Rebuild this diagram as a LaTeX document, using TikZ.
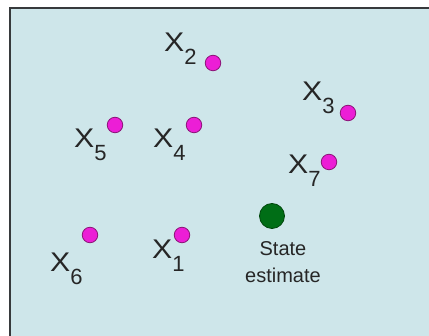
\documentclass[tikz,border=0pt]{standalone}
\usepackage{fontspec}
\setmainfont{Liberation Sans}
\usepackage{tikz}

\definecolor{panelbg}{RGB}{206,230,234}
\definecolor{framegray}{RGB}{55,58,60}
\definecolor{ptfill}{RGB}{236,30,214}
\definecolor{ptedge}{RGB}{140,20,120}
\definecolor{estfill}{RGB}{0,110,22}
\definecolor{estedge}{RGB}{0,70,12}

% label X with a lowered subscript digit
\newcommand{\xlab}[1]{\scalebox{1.12}[1]{X}\raisebox{-13pt}{\fontsize{22}{22}\selectfont #1}}

\begin{document}
\begin{tikzpicture}[
        x=1pt, y=-1pt,
        particle/.style={circle, draw=ptedge, fill=ptfill, line width=0.8pt, minimum size=15.5pt, inner sep=0pt},
        estimate/.style={circle, draw=estedge, fill=estfill, line width=0.8pt, minimum size=25pt, inner sep=0pt},
        xname/.style={anchor=base west, inner sep=0pt, text=black!85, font=\fontsize{27}{27}\selectfont},
        note/.style={align=center, inner sep=0pt, text=black!85, font=\fontsize{20}{27}\selectfont},
        frame/.style={draw=framegray, line width=2.2pt}
      ]
      \useasboundingbox (0,0) rectangle (429,336);
      \fill[white] (0,0) rectangle (429,336);
      \fill[panelbg] (10,8) rectangle (429,336);
      \draw[frame] (10,336) -- (10,8) -- (429,8);

      % particles
      \node[particle] (p2) at (213,63) {};
      \node[particle] (p3) at (348,113) {};
      \node[particle] (p5) at (115,125) {};
      \node[particle] (p4) at (194,125) {};
      \node[particle] (p7) at (329,162) {};
      \node[particle] (p6) at (90,235) {};
      \node[particle] (p1) at (182,235) {};

      % names
      \node[xname] (l2) at (164,52) {\xlab{2}};
      \node[xname] (l3) at (302,101) {\xlab{3}};
      \node[xname] (l5) at (74,148) {\xlab{5}};
      \node[xname] (l4) at (153,148) {\xlab{4}};
      \node[xname] (l7) at (288,174) {\xlab{7}};
      \node[xname] (l6) at (50,272) {\xlab{6}};
      \node[xname] (l1) at (152,259) {\xlab{1}};

      % state estimate
      \node[estimate] (est) at (272,216) {};
      \node[note, anchor=north] (est-text) at (283,241) {State\\estimate};
    \end{tikzpicture}
\end{document}
